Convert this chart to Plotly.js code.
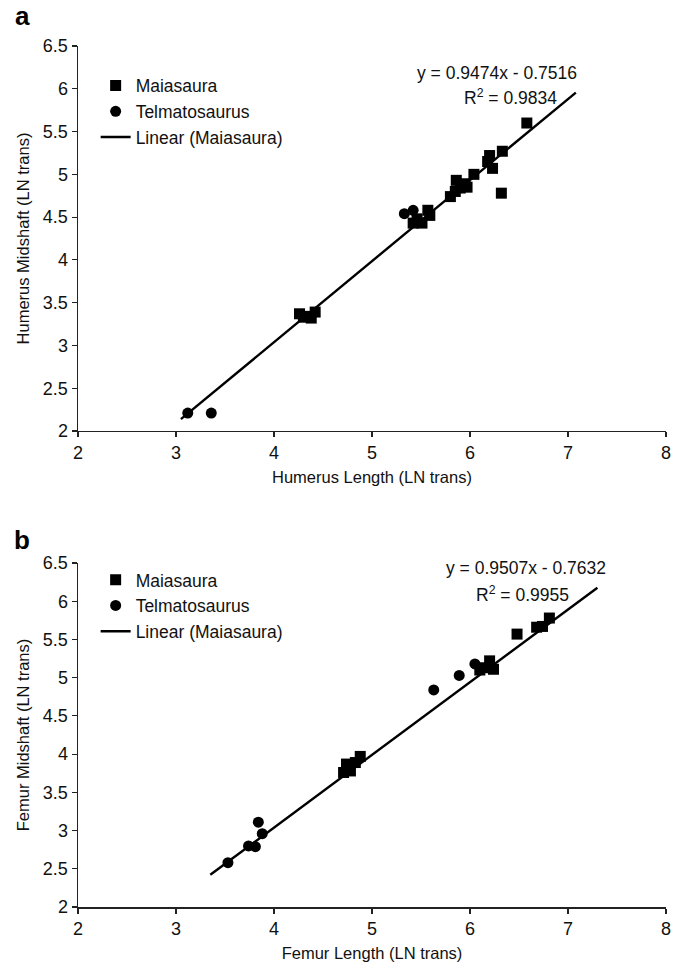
<!DOCTYPE html>
<html>
<head>
<meta charset="utf-8">
<script src="https://cdn.plot.ly/plotly-3.0.1.min.js"></script>
<style>html,body{margin:0;padding:0;background:#fff;}#chart{width:679px;height:967px;}</style>
</head>
<body>
<div id="chart"></div>
<script>
// ---- Panel a: Humerus ----
const humMaiaX = [4.26, 4.30, 4.35, 4.38, 4.42, 5.42, 5.46, 5.51, 5.57, 5.59, 5.80, 5.85, 5.86, 5.90, 5.95, 5.97, 6.04, 6.18, 6.20, 6.23, 6.32, 6.33, 6.58];
const humMaiaY = [3.37, 3.33, 3.34, 3.32, 3.39, 4.43, 4.48, 4.43, 4.58, 4.52, 4.74, 4.80, 4.93, 4.84, 4.89, 4.85, 5.00, 5.15, 5.22, 5.07, 4.78, 5.27, 5.60];
const humTelmX = [3.12, 3.36, 5.33, 5.42];
const humTelmY = [2.21, 2.21, 4.54, 4.58];
const humSlope = 0.9474, humIntercept = -0.7516;
const humLineX = [3.05, 7.08];
const humEq = "y = 0.9474x - 0.7516";
const humR2 = "R<sup>2</sup> = 0.9834";

// ---- Panel b: Femur ----
const femMaiaX = [4.71, 4.74, 4.78, 4.83, 4.88, 6.10, 6.15, 6.20, 6.24, 6.48, 6.68, 6.74, 6.81];
const femMaiaY = [3.76, 3.87, 3.78, 3.89, 3.97, 5.10, 5.13, 5.22, 5.11, 5.57, 5.66, 5.67, 5.78];
const femTelmX = [3.53, 3.74, 3.81, 3.84, 3.88, 5.63, 5.89, 6.05];
const femTelmY = [2.58, 2.80, 2.79, 3.11, 2.96, 4.84, 5.03, 5.18];
const femSlope = 0.9507, femIntercept = -0.7632;
const femLineX = [3.35, 7.30];
const femEq = "y = 0.9507x - 0.7632";
const femR2 = "R<sup>2</sup> = 0.9955";

const xTicks = [2, 3, 4, 5, 6, 7, 8];
const yTicks = [2, 2.5, 3, 3.5, 4, 4.5, 5, 5.5, 6, 6.5];

const FONT = "Liberation Sans, Arial, Helvetica, sans-serif";

function fit(xs, m, b) { return xs.map(x => m * x + b); }

const traces = [
  {x: humMaiaX, y: humMaiaY, type: 'scatter', mode: 'markers', name: 'Maiasaura',
   marker: {symbol: 'square', size: 11, color: '#000'}, xaxis: 'x', yaxis: 'y', legend: 'legend'},
  {x: humTelmX, y: humTelmY, type: 'scatter', mode: 'markers', name: 'Telmatosaurus',
   marker: {symbol: 'circle', size: 11, color: '#000'}, xaxis: 'x', yaxis: 'y', legend: 'legend'},
  {x: humLineX, y: fit(humLineX, humSlope, humIntercept), type: 'scatter', mode: 'lines', name: 'Linear (Maiasaura)',
   line: {color: '#000', width: 2.4}, xaxis: 'x', yaxis: 'y', legend: 'legend'},
  {x: femMaiaX, y: femMaiaY, type: 'scatter', mode: 'markers', name: 'Maiasaura',
   marker: {symbol: 'square', size: 11, color: '#000'}, xaxis: 'x2', yaxis: 'y2', legend: 'legend2'},
  {x: femTelmX, y: femTelmY, type: 'scatter', mode: 'markers', name: 'Telmatosaurus',
   marker: {symbol: 'circle', size: 11, color: '#000'}, xaxis: 'x2', yaxis: 'y2', legend: 'legend2'},
  {x: femLineX, y: fit(femLineX, femSlope, femIntercept), type: 'scatter', mode: 'lines', name: 'Linear (Maiasaura)',
   line: {color: '#000', width: 2.4}, xaxis: 'x2', yaxis: 'y2', legend: 'legend2'}
];

function xAxis(title, anchor) {
  return {range: [2, 8], tickvals: xTicks, ticktext: xTicks.map(String), showgrid: false, zeroline: false,
    showline: true, linecolor: '#222', linewidth: 1.5, ticks: 'outside', ticklen: 5, tickwidth: 1.2, tickcolor: '#222',
    tickfont: {family: FONT, size: 18, color: '#111'}, anchor: anchor,
    title: {text: title, font: {family: FONT, size: 16.5, color: '#111'}, standoff: 9}};
}
function yAxis(title, anchor, domain) {
  return {range: [2, 6.5], tickvals: yTicks, ticktext: yTicks.map(String), showgrid: false, zeroline: false,
    showline: true, linecolor: '#222', linewidth: 1.5, ticks: 'outside', ticklen: 5, tickwidth: 1.2, tickcolor: '#222',
    tickfont: {family: FONT, size: 18, color: '#111'}, anchor: anchor, domain: domain,
    title: {text: title, font: {family: FONT, size: 16.5, color: '#111'}, standoff: 9}};
}

const legendStyle = {family: FONT, size: 17.5, color: '#111'};

const layout = {
  width: 679, height: 967,
  margin: {l: 78, r: 13, t: 0, b: 0},
  paper_bgcolor: '#fff', plot_bgcolor: '#fff',
  font: {family: FONT, color: '#111'},
  xaxis: Object.assign(xAxis('Humerus Length (LN trans)', 'y'), {domain: [0, 1]}),
  yaxis: yAxis('Humerus Midshaft (LN trans)', 'x', [0.5543, 0.9524]),
  xaxis2: Object.assign(xAxis('Femur Length (LN trans)', 'y2'), {domain: [0, 1]}),
  yaxis2: yAxis('Femur Midshaft (LN trans)', 'x2', [0.0620, 0.4178]),
  legend: {x: 0.03, y: 0.930, xanchor: 'left', yanchor: 'top', xref: 'paper', yref: 'paper',
    bgcolor: 'rgba(0,0,0,0)', font: legendStyle, tracegroupgap: 0, itemwidth: 30},
  legend2: {x: 0.03, y: 0.419, xanchor: 'left', yanchor: 'top', xref: 'paper', yref: 'paper',
    bgcolor: 'rgba(0,0,0,0)', font: legendStyle, tracegroupgap: 0, itemwidth: 30},
  annotations: [
    {text: humEq, x: 6.28, y: 6.19, xref: 'x', yref: 'y', showarrow: false, font: {family: FONT, size: 17.5, color: '#111'}},
    {text: humR2, x: 6.41, y: 5.90, xref: 'x', yref: 'y', showarrow: false, font: {family: FONT, size: 17.5, color: '#111'}},
    {text: femEq, x: 6.57, y: 6.43, xref: 'x2', yref: 'y2', showarrow: false, font: {family: FONT, size: 17.5, color: '#111'}},
    {text: femR2, x: 6.54, y: 6.09, xref: 'x2', yref: 'y2', showarrow: false, font: {family: FONT, size: 17.5, color: '#111'}},
    {text: '<b>a</b>', x: -0.095, y: 1 - 16/967, xref: 'paper', yref: 'paper', xanchor: 'center', yanchor: 'middle',
     showarrow: false, font: {family: FONT, size: 26, color: '#000'}},
    {text: '<b>b</b>', x: -0.095, y: 1 - 540/967, xref: 'paper', yref: 'paper', xanchor: 'center', yanchor: 'middle',
     showarrow: false, font: {family: FONT, size: 26, color: '#000'}}
  ]
};

Plotly.newPlot('chart', traces, layout, {displayModeBar: false, staticPlot: true});
</script>
</body>
</html>
